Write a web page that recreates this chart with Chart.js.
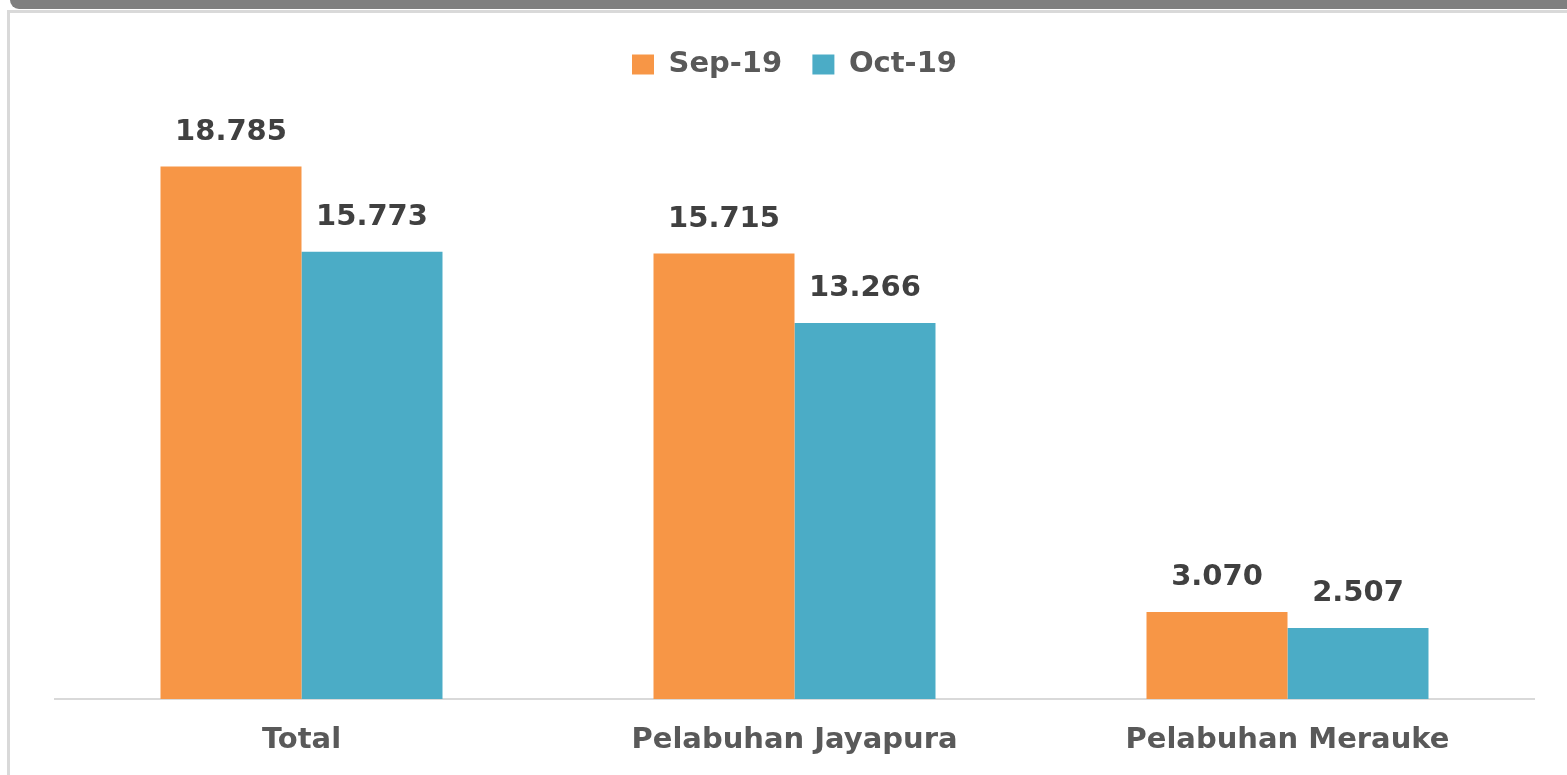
<!DOCTYPE html>
<html>
<head>
<meta charset="utf-8">
<script src="https://cdn.jsdelivr.net/npm/chart.js@4.4.1/dist/chart.umd.min.js"></script>
<style>
    html, body { margin: 0; padding: 0; background: #fff; overflow: hidden; }
    #topband { position: absolute; left: 10px; top: 0; width: 1557px; height: 9px; background: #7f7f7f; border-bottom-left-radius: 22px; }
    #frame { position: absolute; left: 7px; top: 10px; width: 1600px; height: 800px; border-left: 3px solid #d9d9d9; border-top: 3px solid #d9d9d9; }
    #wrap { position: absolute; left: 0; top: 0; width: 1567px; height: 775px; }
</style>
</head>
<body>
<div id="topband"></div>
<div id="frame"></div>
<div id="wrap"><canvas id="chart"></canvas></div>
<script>
// --- Data ---
const categories = ['Total', 'Pelabuhan Jayapura', 'Pelabuhan Merauke'];
const seriesNames = ['Sep-19', 'Oct-19'];
const sep19 = [18785, 15715, 3070];
const oct19 = [15773, 13266, 2507];
const yMax = 20000;

const FONT = '"DejaVu Sans", Verdana, sans-serif';

// thousands separator as dot, e.g. 18785 -> 18.785
function fmt(v) {
    return String(v).replace(/\B(?=(\d{3})+(?!\d))/g, '.');
}

// --- Data labels above bars ---
const barLabels = {
    id: 'barLabels',
    afterDatasetsDraw(chart) {
        const ctx = chart.ctx;
        ctx.save();
        ctx.font = 'bold 29px ' + FONT;
        ctx.fillStyle = '#404040';
        ctx.textAlign = 'center';
        ctx.textBaseline = 'middle';
        chart.data.datasets.forEach((ds, i) => {
            chart.getDatasetMeta(i).data.forEach((bar, j) => {
                ctx.fillText(fmt(ds.data[j]), bar.x, bar.y - 34);
            });
        });
        ctx.restore();
    }
};

// fixed legend block height so the plot starts where the reference does
const legendGap = {
    id: 'legendGap',
    beforeInit(chart) {
        const fit = chart.legend.fit;
        chart.legend.fit = function () {
            fit.call(this);
            this.height = 92;
        };
    }
};

new Chart(document.getElementById('chart'), {
    type: 'bar',
    data: {
        labels: categories,
        datasets: [
            { label: seriesNames[0], data: sep19, backgroundColor: '#F79646', borderWidth: 0 },
            { label: seriesNames[1], data: oct19, backgroundColor: '#4BACC6', borderWidth: 0 }
        ]
    },
    options: {
        responsive: true, maintainAspectRatio: false, animation: false,
        categoryPercentage: 0.572, barPercentage: 1,
        layout: { padding: { left: 55, right: 33, top: 40, bottom: 0 } },
        plugins: {
            tooltip: { enabled: false },
            legend: {
                position: 'top',
                labels: { boxWidth: 22, boxHeight: 20, padding: 10, color: '#595959', font: { family: FONT, size: 29, weight: 'bold' },
                    generateLabels(chart) {
                        const items = Chart.defaults.plugins.legend.labels.generateLabels(chart);
                        // pad the first label so items sit farther apart
                        items.forEach((it, i) => { if (i < items.length - 1) it.text = it.text + '  '; });
                        return items;
                    }
                }
            }
        },
        scales: {
            y: { display: false, min: 0, max: yMax },
            x: {
                grid: { display: false, drawTicks: false },
                border: { display: true, color: '#d9d9d9', width: 2 },
                ticks: { padding: 24, color: '#595959', font: { family: FONT, size: 29, weight: 'bold' } },
                afterFit(scale) { scale.height = 76; }
            }
        }
    },
    plugins: [barLabels, legendGap]
});
</script>
</body>
</html>
